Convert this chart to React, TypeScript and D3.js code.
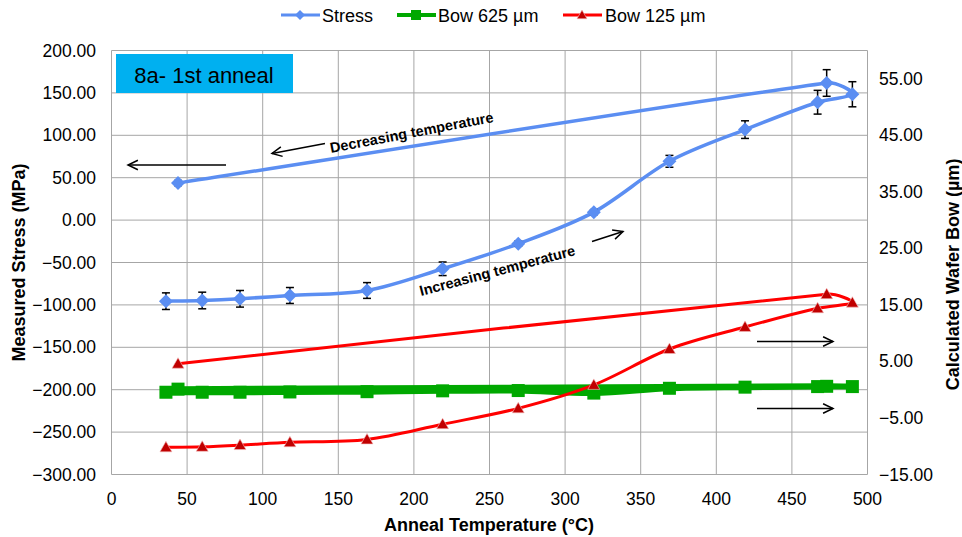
import React from 'react';
import * as d3 from 'd3';

// anneal temperature (°C), heating up to 490 then cooling back
const temps = [36, 60, 85, 118, 169, 219, 269, 319, 369, 419, 467, 490, 473, 44];
const stress = [-95.6, -94.8, -92.8, -88.9, -83, -57.4, -27.9, 9.4, 69.3, 106.7, 139, 148.4, 161.7, 43.7];
const stressErr = [9.8, 9.8, 9.8, 9.4, 9.3, 8, 3, 3, 7, 10.4, 14, 14.8, 15.7, 3];
const bow625 = [-0.45, -0.45, -0.45, -0.4, -0.35, -0.2, -0.15, -0.6, 0.25, 0.45, 0.55, 0.55, 0.6, 0.1];
const bow125 = [-10.2, -10.1, -9.8, -9.3, -8.8, -6.1, -3.3, 0.85, 7.2, 11.1, 14.4, 15.4, 16.9, 4.6];

const xTicks = d3.range(0, 501, 50);
const yLeftTicks = d3.range(-300, 201, 50);
const yRightTicks = d3.range(-15, 56, 10);

const W = 962, H = 537;
const m = { left: 111.5, right: 867.5, top: 50.5, bottom: 474.5 };
const FONT = '"Liberation Sans", Arial, sans-serif';

const BLUE = '#5b8ef2';
const GREEN = '#00a800';
const RED = '#ff0000';
const DARKRED = '#c00000';

// excel-ish smoothed line: catmull-rom tangents, but control arms limited by the segment length
function smoothPath(pts: [number, number][]) {
    const n = pts.length;
    const tan = pts.map((p, i) => {
        const a = pts[Math.max(0, i - 1)], b = pts[Math.min(n - 1, i + 1)];
        const dx = b[0] - a[0], dy = b[1] - a[1];
        const len = Math.hypot(dx, dy) || 1;
        return [dx / len, dy / len, len];
    });
    let d = `M${pts[0][0]},${pts[0][1]}`;
    for (let i = 0; i < n - 1; i++) {
        const p = pts[i], q = pts[i + 1];
        const seg = Math.hypot(q[0] - p[0], q[1] - p[1]);
        const a1 = Math.min(seg / 3, tan[i][2] / 6);
        const a2 = Math.min(seg / 3, tan[i + 1][2] / 6);
        const c1 = [p[0] + tan[i][0] * a1, p[1] + tan[i][1] * a1];
        const c2 = [q[0] - tan[i + 1][0] * a2, q[1] - tan[i + 1][1] * a2];
        d += `C${c1[0]},${c1[1]},${c2[0]},${c2[1]},${q[0]},${q[1]}`;
    }
    return d;
}

function Diamond({ x, y, r = 7 }) {
    return <path d={`M${x},${y - r}L${x + r},${y}L${x},${y + r}L${x - r},${y}Z`} fill={BLUE} />;
}
function Square({ x, y, s = 13 }) {
    return <rect x={x - s / 2} y={y - s / 2} width={s} height={s} fill={GREEN} />;
}
function Tri({ x, y, s = 6 }) {
    return <path d={`M${x},${y - s}L${x + s},${y + s * 0.75}L${x - s},${y + s * 0.75}Z`}
        fill={DARKRED} stroke="#f4c0c0" strokeWidth={0.6} />;
}

function Arrow({ x1, y1, x2, y2 }) {
    // arrowhead at (x2,y2), open
    const a = Math.atan2(y2 - y1, x2 - x1);
    const L = 11, sp = 0.45;
    const p1 = [x2 - L * Math.cos(a - sp), y2 - L * Math.sin(a - sp)];
    const p2 = [x2 - L * Math.cos(a + sp), y2 - L * Math.sin(a + sp)];
    return (
        <g stroke="#000" strokeWidth={1.5} fill="none">
            <line x1={x1} y1={y1} x2={x2} y2={y2} />
            <path d={`M${p1[0]},${p1[1]}L${x2},${y2}L${p2[0]},${p2[1]}`} />
        </g>
    );
}

export default function App() {
    const x = d3.scaleLinear().domain([0, 500]).range([m.left, m.right]);
    const yL = d3.scaleLinear().domain([-300, 200]).range([m.bottom, m.top]);
    const yR = d3.scaleLinear().domain([-15, 60]).range([m.bottom, m.top]);

    const mk = (vals: number[], sc) => smoothPath(vals.map((v, i) => [x(temps[i]), sc(v)] as [number, number]));

    const fmt = d3.format('.2f');

    return (
        <svg width={W} height={H} style={{ position: 'absolute', left: 0, top: 0, background: '#fff' }}
            fontFamily={FONT}>
            {/* grid */}
            <g stroke="#a6a6a6" strokeWidth={1}>
                {xTicks.map(t => <line key={'gx' + t} x1={x(t)} x2={x(t)} y1={m.top} y2={m.bottom} />)}
                {yLeftTicks.map(t => <line key={'gy' + t} x1={m.left} x2={m.right} y1={yL(t)} y2={yL(t)} />)}
            </g>

            {/* axis tick labels */}
            <g fontSize={17.5} fill="#000">
                {xTicks.map(t => <text key={'tx' + t} x={x(t)} y={505} textAnchor="middle">{t}</text>)}
                {yLeftTicks.map(t => <text key={'tl' + t} x={96} y={yL(t) + 6} textAnchor="end">{fmt(t)}</text>)}
                {yRightTicks.map(t => <text key={'tr' + t} x={879} y={yR(t) + 6} textAnchor="start">{fmt(t)}</text>)}
            </g>

            {/* axis titles */}
            <text x={489} y={531} textAnchor="middle" fontSize={18} fontWeight="bold">Anneal Temperature (°C)</text>
            <text transform={`translate(25,${(m.top + m.bottom) / 2}) rotate(-90)`} textAnchor="middle"
                fontSize={18} fontWeight="bold">Measured Stress (MPa)</text>
            <text transform={`translate(959,${(m.top + m.bottom) / 2 + 12}) rotate(-90)`} textAnchor="middle"
                fontSize={18} fontWeight="bold">Calculated Wafer Bow (µm)</text>

            {/* Stress */}
            <path d={mk(stress, yL)} fill="none" stroke={BLUE} strokeWidth={3.5} />
            <g stroke="#000" strokeWidth={1.5}>
                {stress.map((v, i) => {
                    const cx = x(temps[i]);
                    const ya = yL(v + stressErr[i]), yb = yL(v - stressErr[i]);
                    return (
                        <g key={'e' + i}>
                            <line x1={cx} x2={cx} y1={ya} y2={yb} />
                            <line x1={cx - 4} x2={cx + 4} y1={ya} y2={ya} />
                            <line x1={cx - 4} x2={cx + 4} y1={yb} y2={yb} />
                        </g>
                    );
                })}
            </g>
            {stress.map((v, i) => <Diamond key={'d' + i} x={x(temps[i])} y={yL(v)} />)}

            {/* Bow 625 */}
            <path d={mk(bow625, yR)} fill="none" stroke={GREEN} strokeWidth={6} />
            {bow625.map((v, i) => <Square key={'s' + i} x={x(temps[i])} y={yR(v)} />)}

            {/* Bow 125 */}
            <path d={mk(bow125, yR)} fill="none" stroke={RED} strokeWidth={3} />
            {bow125.map((v, i) => <Tri key={'t' + i} x={x(temps[i])} y={yR(v)} />)}

            {/* annotations */}
            <rect x={116} y={54} width={177} height={39} fill="#00b0f0" />
            <text x={204} y={82.5} textAnchor="middle" fontSize={22}>8a- 1st anneal</text>

            <Arrow x1={226} y1={165} x2={128} y2={165} />
            <Arrow x1={325} y1={143.5} x2={272} y2={153.5} />
            <text transform="translate(331,153) rotate(-10.8)" fontSize={14.5} fontWeight="bold">
                Decreasing temperature
            </text>
            <text transform="translate(421,296) rotate(-14.8)" fontSize={14.5} fontWeight="bold">
                Increasing temperature
            </text>
            <Arrow x1={592} y1={241.5} x2={623} y2={231.5} />
            <Arrow x1={757} y1={341.5} x2={833} y2={341.5} />
            <Arrow x1={757} y1={408.5} x2={833} y2={408.5} />

            {/* legend */}
            <g fontSize={18}>
                <line x1={281} x2={320} y1={15} y2={15} stroke={BLUE} strokeWidth={3} />
                <Diamond x={300} y={15} r={5} />
                <text x={322} y={21.5}>Stress</text>
                <line x1={397} x2={436} y1={15} y2={15} stroke={GREEN} strokeWidth={4} />
                <Square x={416} y={15} s={10} />
                <text x={438} y={21.5}>Bow 625 µm</text>
                <line x1={563} x2={602} y1={15} y2={15} stroke={RED} strokeWidth={3} />
                <Tri x={582} y={15} s={5} />
                <text x={605} y={21.5}>Bow 125 µm</text>
            </g>
        </svg>
    );
}
